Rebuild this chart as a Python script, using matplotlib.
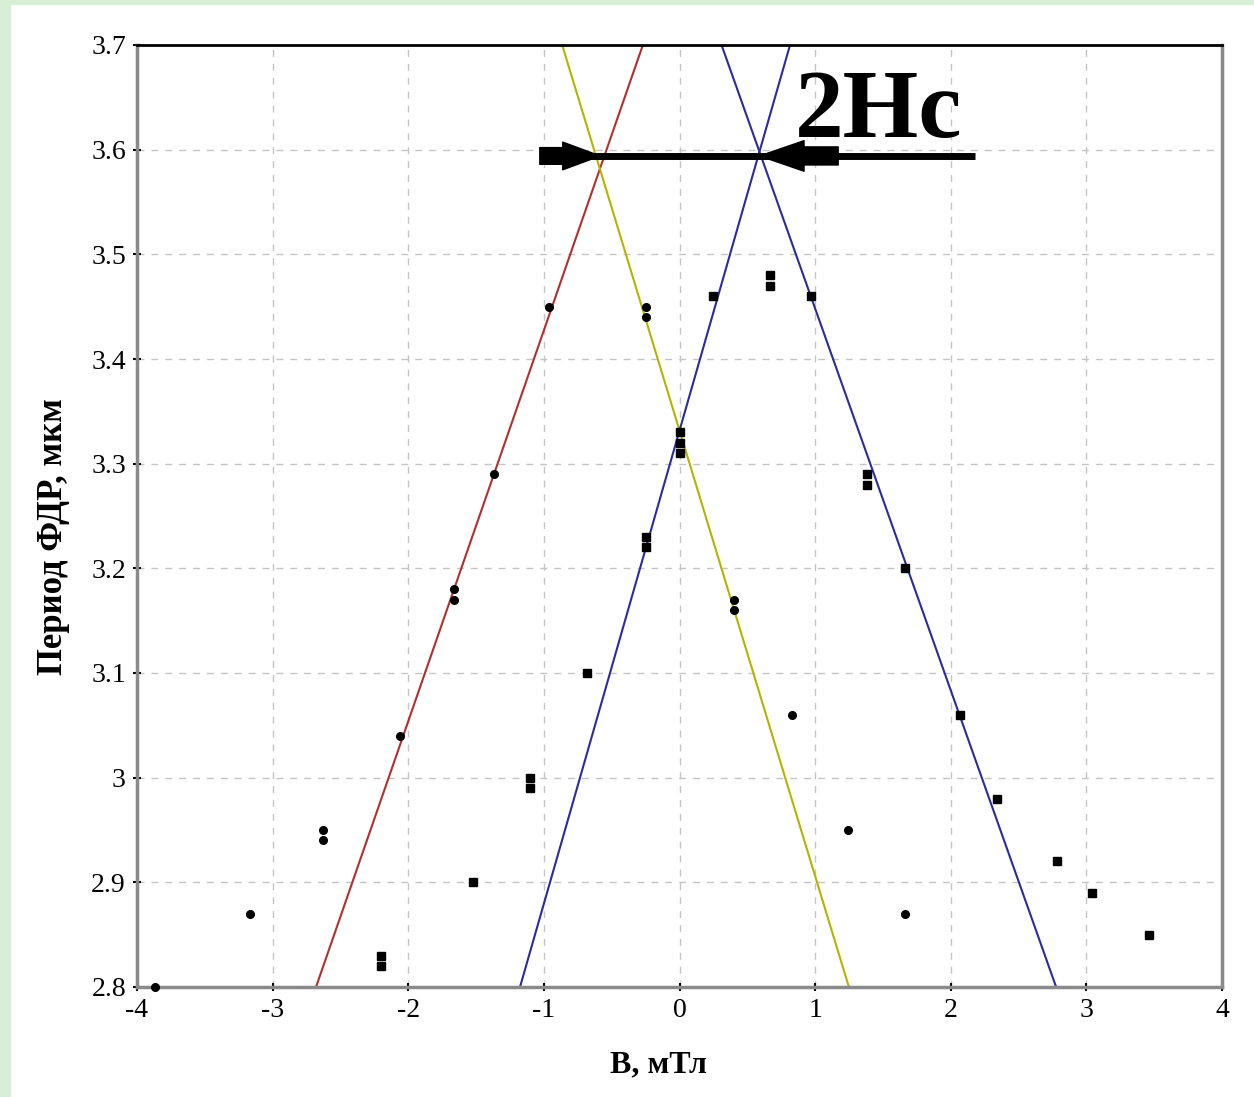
import matplotlib.pyplot as plt
import numpy as np
from matplotlib.patches import Rectangle

# measured points, circles (one sweep) and squares (the other)
circ_b = [-3.87, -3.17, -2.63, -2.63, -2.06, -1.66, -1.66, -1.37, -0.96,
          -0.25, -0.25, 0.40, 0.40, 0.83, 1.24, 1.66]
circ_p = [2.80, 2.87, 2.95, 2.94, 3.04, 3.18, 3.17, 3.29, 3.45,
          3.45, 3.44, 3.17, 3.16, 3.06, 2.95, 2.87]

sq_b = [-2.20, -2.20, -1.52, -1.10, -1.10, -0.68, -0.25, -0.25, 0.0, 0.0, 0.0,
        0.25, 0.67, 0.67, 0.97, 1.38, 1.38, 1.66, 2.07, 2.34, 2.78, 3.04, 3.46]
sq_p = [2.83, 2.82, 2.90, 3.00, 2.99, 3.10, 3.23, 3.22, 3.33, 3.32, 3.31,
        3.46, 3.48, 3.47, 3.46, 3.29, 3.28, 3.20, 3.06, 2.98, 2.92, 2.89, 2.85]

# fitted lines: B at period 2.8 and at 3.7
line_p = [2.8, 3.7]
red_b = [-2.68, -0.27]
yellow_b = [1.249, -0.865]
blue_l_b = [-1.176, 0.815]
blue_r_b = [2.777, 0.31]

# level of the 2Hc arrow
arrow_p = 3.594

xticks = [-4, -3, -2, -1, 0, 1, 2, 3, 4]
xtick_labels = ['-4', '-3', '-2', '-1', '0', '1', '2', '3', '4']
yticks = [2.8, 2.9, 3.0, 3.1, 3.2, 3.3, 3.4, 3.5, 3.6, 3.7]
ytick_labels = ['2.8', '2.9', '3', '3.1', '3.2', '3.3', '3.4', '3.5', '3.6', '3.7']


def b_at(line, p):
    return np.interp(p, line_p, line)


plt.rcParams['font.family'] = ['Liberation Serif', 'DejaVu Serif']

fig = plt.figure(figsize=(12.54, 10.97), dpi=100)
fig.patches.append(Rectangle((0, 0), 10 / 1254, 1, transform=fig.transFigure,
                             color='#d6efd6', zorder=-10))
fig.patches.append(Rectangle((0, 1 - 4 / 1097), 1, 4 / 1097, transform=fig.transFigure,
                             color='#d6efd6', zorder=-10))

ax = fig.add_axes([137 / 1254, 110 / 1097, 1085 / 1254, 942 / 1097])

ax.plot(red_b, line_p, color='#b03030', lw=1.5)
ax.plot(yellow_b, line_p, color='#b4b400', lw=1.5)
ax.plot(blue_l_b, line_p, color='#2b2b9c', lw=1.5)
ax.plot(blue_r_b, line_p, color='#2b2b9c', lw=1.5)

ax.plot(circ_b, circ_p, 'o', color='black', ms=5.5, clip_on=False, zorder=5)
ax.plot(sq_b, sq_p, 's', color='black', ms=5.5, clip_on=False, zorder=5)

# 2Hc arrows pointing at the crossings
xl = (b_at(red_b, arrow_p) + b_at(yellow_b, arrow_p)) / 2
xr = (b_at(blue_l_b, arrow_p) + b_at(blue_r_b, arrow_p)) / 2
ax.plot([-1.03, 2.18], [arrow_p, arrow_p], color='black', lw=5, solid_capstyle='butt', zorder=6)
ax.annotate('', xy=(xl, arrow_p), xytext=(-1.03, arrow_p),
            arrowprops=dict(arrowstyle='simple,head_length=27,head_width=20,tail_width=12',
                            mutation_scale=1, color='black', shrinkA=0, shrinkB=0), zorder=7)
ax.annotate('', xy=(xr, arrow_p), xytext=(1.17, arrow_p),
            arrowprops=dict(arrowstyle='simple,head_length=32,head_width=22,tail_width=13',
                            mutation_scale=1, color='black', shrinkA=0, shrinkB=0), zorder=7)
ax.text(0.85, 3.612, '2Hc', fontsize=70, fontweight='bold', ha='left', va='baseline',
        zorder=8)

ax.set_xlim(-4, 4)
ax.set_ylim(2.8, 3.7)
ax.set_xticks(xticks)
ax.set_xticklabels(xtick_labels)
ax.set_yticks(yticks)
ax.set_yticklabels(ytick_labels)
ax.tick_params(direction='inout', length=6, width=1.5, labelsize=20, pad=5)
ax.grid(True, linestyle=(0, (5, 5)), color='#c4c4c4', lw=1)

for side in ['left', 'bottom', 'right']:
    ax.spines[side].set_color('#8a8a8a')
    ax.spines[side].set_linewidth(2.5)
ax.spines['top'].set_color('black')
ax.spines['top'].set_linewidth(2)

ax.set_xlabel('B, мТл', fontsize=23, fontweight='bold')
ax.xaxis.set_label_coords(0.481, -0.067)
ax.set_ylabel('Период ФДР, мкм', fontsize=25, fontweight='bold')
ax.yaxis.set_label_coords(-0.062, 0.478)

plt.savefig('out.png', dpi=100, facecolor='white')
